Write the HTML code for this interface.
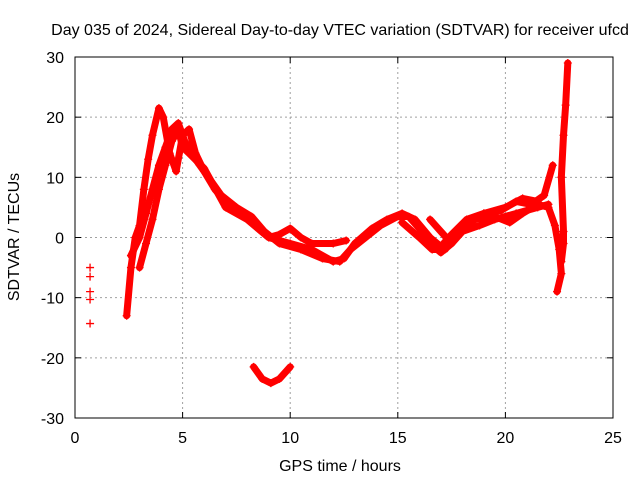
<!DOCTYPE html>
<html><head><meta charset="utf-8"><style>
body{margin:0;background:#fff}
svg{display:block;font-family:"Liberation Sans",sans-serif;font-size:16px}
</style></head><body>
<svg id="c" width="640" height="480">
<rect width="640" height="480" fill="#fff"/>
<text x="340" y="35" text-anchor="middle">Day 035 of 2024, Sidereal Day-to-day VTEC variation (SDTVAR) for receiver ufcd</text>
<text x="340" y="471" text-anchor="middle">GPS time / hours</text>
<text transform="translate(19,237) rotate(-90)" text-anchor="middle">SDTVAR / TECUs</text>
<g id="grid"></g><g id="ticks"></g><g id="marks"></g>
<rect x="75" y="57" width="538" height="361" fill="none" stroke="#000"/>
</svg>
<script>
const xTicks=[0,5,10,15,20,25];
const yTicks=[-30,-20,-10,0,10,20,30];
const track1=[[2.4,-13],[2.6,-5],[2.8,0],[3.0,2],[3.2,8],[3.4,13],[3.6,17],[3.9,21.5],[4.1,20],[4.4,14],[4.7,11],[5.0,17],[5.3,18],[5.6,14],[6.0,11],[6.5,8],[7,6],[7.5,4.5],[8,3.5],[8.5,1.5],[9,0],[9.5,0.5],[10,1.5],[10.5,0],[11,-1],[12,-1],[12.6,-0.5]];
const track2=[[2.6,-3],[3.0,0],[3.3,4],[3.6,8],[3.9,12],[4.2,15],[4.5,18],[4.8,19],[5.1,16],[5.4,14],[5.8,12],[6.2,10],[6.8,7],[7.5,5],[8.2,3.5],[8.8,1],[9.5,-1],[10.5,-2],[11.5,-3.5],[12.3,-4],[12.8,-2],[13.5,0],[14.2,2],[15,3.5],[15.5,3.5],[16,1.5],[16.5,-1],[17,-2.5],[17.5,-1],[18,1],[18.8,2],[19.5,3],[20.5,4],[21.5,5],[22,5.5]];
const track3=[[3.0,-5],[3.3,-1],[3.6,3],[3.9,8],[4.2,12],[4.5,16],[4.8,18],[5.0,15],[5.3,14],[6,11.5],[7,5],[8,3],[9,0],[10,-1],[11,-2],[12,-4],[12.5,-3.5],[13,-1],[13.8,1.5],[14.5,3],[15.2,4],[15.8,3],[16.5,0],[17,-1.5],[17.5,0.5],[18.2,3],[19,4],[20,5],[20.8,6.5],[21.5,6]];
const track4=[[16.5,3],[17,1],[17.5,-1],[18.2,2],[19,4],[19.8,4.5],[20.5,6],[21.2,5.5],[21.8,7],[22.2,12]];
const track5=[[15.2,2.5],[16,0],[16.6,-2],[17.2,-2],[17.8,1],[18.5,3],[19.5,3.5],[20.2,2.5],[20.8,4],[21.5,5.5],[22,5],[22.3,2],[22.5,-2],[22.6,-6],[22.4,-9]];
const track6=[[22.6,-4],[22.7,-1],[22.7,1],[22.6,10],[22.7,17],[22.8,22],[22.9,29]];
const track7=[[8.3,-21.5],[8.7,-23.5],[9.1,-24.2],[9.5,-23.5],[10,-21.5]];
const isolated=[[0.7,-5],[0.7,-6.5],[0.7,-9],[0.7,-10.3],[0.7,-14.3]];
const tracks=[track1,track2,track3,track4,track5,track6,track7];
const X=v=>75+v*538/25, Y=v=>237.5-v*361/60;
const NS='http://www.w3.org/2000/svg';
function mk(t,a,p){const e=document.createElementNS(NS,t);for(const k in a)e.setAttribute(k,a[k]);p.appendChild(e);return e;}
const grid=document.getElementById('grid'),ticks=document.getElementById('ticks'),marks=document.getElementById('marks');
xTicks.forEach(t=>{const x=X(t);
 if(t>0&&t<25){const g=mk('line',{x1:x,x2:x,y1:57,y2:418,stroke:'#a0a0a0','stroke-dasharray':'2,3'},grid);
 
 }
 mk('line',{x1:x,x2:x,y1:418,y2:412,stroke:'#000'},ticks);mk('line',{x1:x,x2:x,y1:57,y2:63,stroke:'#000'},ticks);
 const l=mk('text',{x:x,y:443,'text-anchor':'middle'},ticks);l.textContent=t;
 
 });
yTicks.forEach(t=>{const y=Y(t);
 if(t>-30&&t<30){const g=mk('line',{x1:75,x2:613,y1:y,y2:y,stroke:'#a0a0a0','stroke-dasharray':'2,3'},grid);
 
 }
 mk('line',{x1:75,x2:81,y1:y,y2:y,stroke:'#000'},ticks);mk('line',{x1:613,x2:607,y1:y,y2:y,stroke:'#000'},ticks);
 const l=mk('text',{x:64,y:y+6,'text-anchor':'end'},ticks);l.textContent=t;
 
 });
function plus(x,y){const p=mk('path',{d:`M${x-4},${y}h8M${x},${y-4}v8`,stroke:'#f00','stroke-width':1.3},marks);
 
 }
tracks.forEach(tr=>{const pl=mk('polyline',{points:tr.map(d=>X(d[0])+','+Y(d[1])).join(' '),fill:'none',stroke:'#f00','stroke-width':7,'stroke-linejoin':'round','stroke-linecap':'round'},marks);
 
 
 tr.forEach(d=>plus(X(d[0]),Y(d[1])));});
isolated.forEach(d=>plus(X(d[0]),Y(d[1])));
</script>
</body></html>
